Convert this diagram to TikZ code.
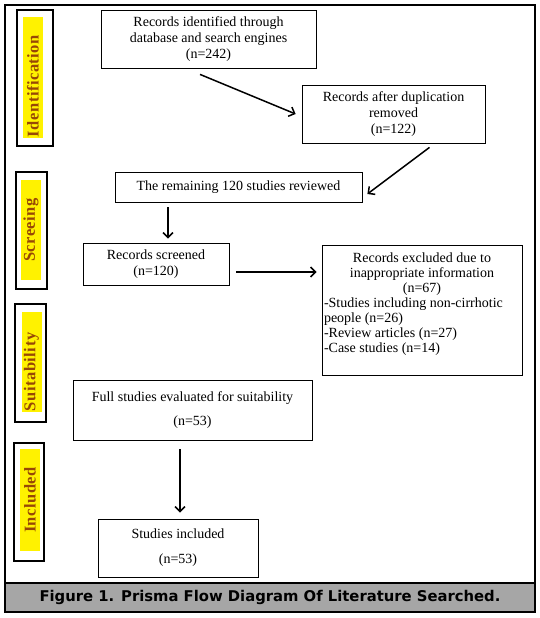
\documentclass[tikz,border=0pt]{standalone}
\usepackage{fontspec}
\setmainfont{Liberation Serif}
\newfontfamily\capfont{DejaVu Sans Bold}
\newfontfamily\tagfont{Liberation Serif Bold}[LetterSpace=3]
\usetikzlibrary{arrows.meta}
\definecolor{tagbrown}{RGB}{151,71,6}
\definecolor{bargray}{RGB}{166,166,166}
\tikzset{
	box/.style={draw, line width=0.8pt, inner sep=2pt, align=center, font=\fontsize{14}{16}\selectfont},
	tagbox/.style={draw, line width=1.2pt, inner sep=0pt},
	tag/.style={rotate=90, fill=yellow, inner sep=0pt, minimum height=20pt, text=tagbrown, font=\tagfont\fontsize{16.5}{18}\selectfont},
	arr/.style={-{Straight Barb[length=5pt,width=10pt]}, line width=1.5pt}
}
\begin{document}
\begin{tikzpicture}[x=1pt, y=-1pt]
	\useasboundingbox (0,0) rectangle (539,618);
	
	%frame and caption
	\draw[line width=1.2pt] (5,5) rectangle (535,612);
	\node[draw, line width=1.2pt, fill=bargray, minimum width=530pt, minimum height=29pt, inner sep=0pt, font=\capfont\fontsize{14.8}{16}\selectfont] (caption) at (270,597.5) {Figure 1. Prisma Flow Diagram Of Literature Searched.};
	
	%stage tags on the left
	\node[tagbox, minimum width=36pt, minimum height=136pt] (tbid) at (35,78) {};
	\node[tag, minimum width=121pt, text width=119pt, align=left] (tid) at (33,77.5) {Identification};
	\node[tagbox, minimum width=31pt, minimum height=117pt] (tbsc) at (31.5,230.5) {};
	\node[tag, minimum width=100pt] (tsc) at (31,230) {Screeing};
	\node[tagbox, minimum width=31pt, minimum height=118pt] (tbsu) at (30.5,363) {};
	\node[tag, minimum width=100pt, text width=98pt, align=left] (tsu) at (31.5,362) {Suitability};
	\node[tagbox, minimum width=30pt, minimum height=118pt] (tbin) at (29,502) {};
	\node[tag, minimum width=102pt] (tin) at (30,500) {Included};
	
	%flow boxes
	\node[box, minimum width=215pt, minimum height=58pt] (found) at (208.5,39) {Records identified through\\ database and search engines\\ (n=242)};
	\node[box, minimum width=183pt, minimum height=58pt] (dedup) at (393.5,114) {Records after duplication\\ removed\\ (n=122)};
	\node[box, minimum width=247pt, minimum height=30pt] (review) at (238.5,187) {The remaining 120 studies reviewed};
	\node[box, minimum width=146pt, minimum height=42pt] (screen) at (156,264) {Records screened\\ (n=120)};
	\node[box, text width=196pt, minimum height=130pt, align=none, font=\fontsize{14}{15}\selectfont] (excl) at (422,310) {\centering Records excluded due to\\ inappropriate information\\ (n=67)\par\raggedright -Studies including non-cirrhotic\\ people (n=26)\\ -Review articles (n=27)\\ -Case studies (n=14)\par\kern12pt};
	\node[box, minimum width=239pt, minimum height=60pt] (full) at (192.5,410) {Full studies evaluated for suitability\\[8pt] (n=53)};
	\node[box, minimum width=160pt, minimum height=58pt] (incl) at (178,548) {Studies included\\[9pt] (n=53)};
	
	%arrows
	\draw[arr] ([shift={(-8.5pt,-6pt)}]found.south) -- ([xshift=-6pt]dedup.west);
	\draw[arr] ([shift={(36pt,-4pt)}]dedup.south) -- ([shift={(5pt,-7pt)}]review.east);
	\draw[arr, shorten <=5pt, shorten >=4pt] ([xshift=-70.5pt]review.south) -- ([xshift=12pt]screen.north);
	\draw[arr, shorten >=12pt] ([shift={(7pt,-8pt)}]screen.east) -- ([shift={(7pt,-8pt)}]screen.east -| excl.west);
	\draw[arr, shorten <=9pt, shorten >=6pt] ([xshift=-12.5pt]full.south) -- ([xshift=2pt]incl.north);
	
\end{tikzpicture}
\end{document}
